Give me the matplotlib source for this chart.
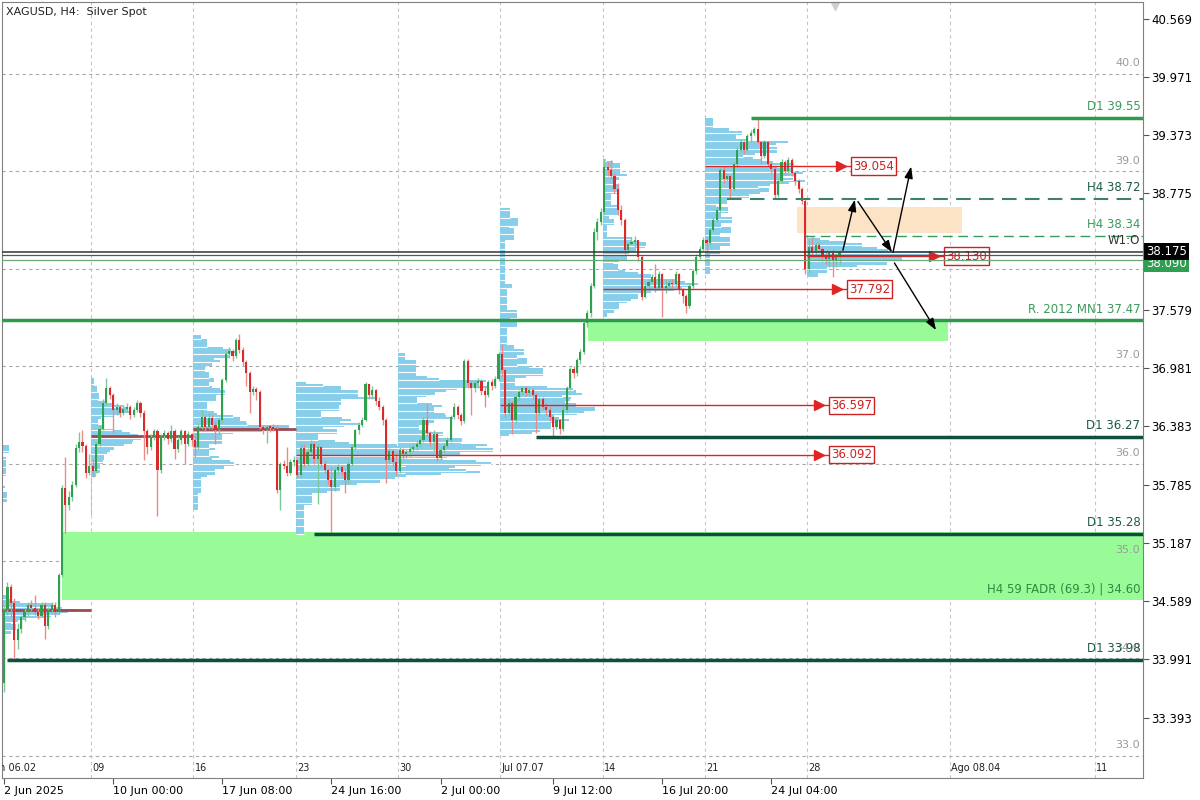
import numpy as np
import matplotlib.pyplot as plt
import matplotlib.transforms as mtransforms

plt.rcParams['font.family'] = ['DejaVu Sans']

# H4 bars of XAGUSD, one row per week (Jun 02 week is cut at the left edge).
# The open of a bar is the close of the bar before it.
first_open = 33.75
first_bar = -26          # bar 0 = Mon 09 Jun 00:00

close_w = [
    [34.50, 34.73, 34.57, 34.19, 34.30, 34.42, 34.48, 34.55, 34.52, 34.48,
     34.44, 34.55, 34.33, 34.50, 34.55, 34.48, 34.86, 35.75, 35.57, 35.66,
     35.78, 36.16, 36.22, 36.18, 35.90, 35.98],
    [35.92, 36.20, 36.36, 36.62, 36.78, 36.70, 36.55, 36.58, 36.52, 36.56,
     36.58, 36.50, 36.55, 36.62, 36.52, 36.33, 36.17, 36.27, 36.33, 35.93,
     36.28, 36.31, 36.25, 36.33, 36.15, 36.24, 36.33, 36.20, 36.30, 36.24],
    [36.17, 36.38, 36.48, 36.38, 36.47, 36.40, 36.34, 36.45, 36.86, 37.13,
     37.16, 37.10, 37.27, 37.17, 37.04, 36.93, 36.74, 36.77, 36.74, 36.38,
     36.34, 36.38, 36.37, 36.36, 35.73, 36.00, 35.98, 35.90, 36.02, 36.04],
    [35.88, 36.16, 36.00, 36.12, 36.20, 36.05, 36.17, 36.00, 35.93, 35.83,
     35.76, 35.93, 35.97, 35.91, 35.83, 36.00, 36.17, 36.34, 36.40, 36.45,
     36.82, 36.70, 36.76, 36.64, 36.58, 36.45, 36.04, 36.13, 36.02, 35.92],
    [36.14, 36.10, 36.12, 36.15, 36.17, 36.20, 36.24, 36.45, 36.31, 36.22,
     36.30, 36.06, 36.14, 36.18, 36.24, 36.48, 36.58, 36.50, 36.44, 37.05,
     36.83, 36.78, 36.83, 36.85, 36.75, 36.70, 36.84, 36.80, 36.87, 37.13],
    [36.96, 36.52, 36.62, 36.45, 36.68, 36.73, 36.78, 36.72, 36.76, 36.70,
     36.52, 36.66, 36.58, 36.55, 36.48, 36.38, 36.45, 36.35, 36.55, 36.78,
     36.97, 36.93, 37.06, 37.15, 37.44, 37.55, 37.82, 38.38, 38.48, 38.58],
    [39.05, 39.01, 38.95, 38.82, 38.60, 38.50, 38.19, 38.25, 38.28, 38.30,
     38.12, 37.71, 37.82, 37.86, 37.92, 37.80, 37.95, 37.80, 37.82, 37.85,
     37.84, 37.95, 37.78, 37.72, 37.62, 37.82, 37.98, 38.12, 38.20, 38.30],
    [38.26, 38.40, 38.50, 38.60, 39.01, 38.92, 38.95, 38.82, 39.08, 39.22,
     39.30, 39.22, 39.36, 39.39, 39.44, 39.30, 39.16, 39.30, 39.08, 39.02,
     38.76, 38.90, 39.10, 39.00, 39.12, 38.98, 38.90, 38.82, 38.70, 38.00],
    [38.22, 38.18, 38.24, 38.20, 38.14, 38.10, 38.16, 38.09, 38.13, 38.175],
]
high_w = [
    [34.55, 34.78, 34.76, 34.62, 34.36, 34.45, 34.52, 34.58, 34.60, 34.65,
     34.52, 34.58, 34.58, 34.53, 34.58, 34.58, 34.88, 35.78, 36.07, 35.72,
     35.82, 36.20, 36.32, 36.34, 36.20, 36.10],
    [36.05, 36.22, 36.40, 36.66, 36.88, 36.80, 36.72, 36.62, 36.60, 36.60,
     36.62, 36.60, 36.58, 36.65, 36.64, 36.55, 36.35, 36.30, 36.36, 36.36,
     36.30, 36.34, 36.33, 36.40, 36.35, 36.28, 36.36, 36.34, 36.33, 36.31],
    [36.31, 36.42, 36.55, 36.50, 36.52, 36.50, 36.44, 36.48, 36.88, 37.16,
     37.20, 37.18, 37.29, 37.33, 37.20, 37.06, 36.95, 36.80, 36.79, 36.76,
     36.40, 36.40, 36.40, 36.41, 36.40, 36.02, 36.04, 36.17, 36.05, 36.08],
    [36.04, 36.20, 36.20, 36.16, 36.24, 36.22, 36.20, 36.18, 36.04, 35.95,
     35.96, 35.96, 36.00, 35.99, 35.93, 36.03, 36.20, 36.36, 36.43, 36.48,
     36.84, 36.82, 36.80, 36.77, 36.68, 36.60, 36.47, 36.16, 36.15, 36.12],
    [36.17, 36.16, 36.15, 36.18, 36.20, 36.23, 36.27, 36.48, 36.62, 36.33,
     36.34, 36.32, 36.17, 36.21, 36.27, 36.50, 36.62, 36.60, 36.52, 37.07,
     37.07, 36.86, 36.86, 36.88, 36.87, 36.80, 36.86, 36.87, 36.90, 37.15],
    [37.23, 36.98, 36.66, 36.64, 36.70, 36.76, 36.80, 36.80, 36.78, 36.78,
     36.72, 36.68, 36.68, 36.62, 36.58, 36.50, 36.48, 36.46, 36.58, 36.80,
     36.99, 37.00, 37.08, 37.18, 37.46, 37.58, 37.85, 38.42, 38.52, 38.62],
    [39.13, 39.10, 39.12, 38.98, 38.88, 38.65, 38.52, 38.28, 38.33, 38.34,
     38.30, 38.14, 37.85, 37.89, 37.95, 38.05, 37.98, 37.96, 37.90, 37.88,
     37.90, 37.98, 37.96, 37.80, 37.74, 37.85, 38.00, 38.15, 38.23, 38.33],
    [38.33, 38.43, 38.53, 38.64, 39.03, 39.05, 38.98, 38.96, 39.10, 39.25,
     39.33, 39.31, 39.38, 39.42, 39.46, 39.55, 39.31, 39.32, 39.31, 39.10,
     39.04, 38.93, 39.13, 39.12, 39.15, 39.14, 39.00, 38.92, 38.84, 38.72],
    [38.30, 38.33, 38.27, 38.28, 38.22, 38.18, 38.19, 38.20, 38.16, 38.19],
]
low_w = [
    [33.65, 34.45, 34.42, 33.98, 34.10, 34.26, 34.38, 34.44, 34.49, 34.45,
     34.40, 34.42, 34.20, 34.30, 34.47, 34.42, 34.46, 34.84, 35.29, 35.52,
     35.62, 35.76, 36.12, 36.12, 35.85, 35.88],
    [35.86, 35.90, 36.18, 36.34, 36.60, 36.66, 36.31, 36.50, 36.48, 36.50,
     36.53, 36.46, 36.48, 36.53, 36.48, 36.04, 36.10, 36.14, 36.24, 35.46,
     35.90, 36.24, 36.20, 36.22, 36.05, 36.12, 36.20, 36.00, 36.18, 36.18],
    [36.07, 36.15, 36.35, 36.33, 36.36, 36.36, 36.20, 36.30, 36.42, 36.84,
     37.08, 37.05, 37.08, 37.14, 37.00, 36.80, 36.52, 36.70, 36.65, 36.35,
     36.30, 36.21, 36.32, 36.33, 35.70, 35.52, 35.94, 35.87, 35.88, 35.98],
    [35.85, 35.86, 35.96, 35.98, 36.08, 36.00, 35.59, 35.96, 35.90, 35.78,
     35.28, 35.72, 35.90, 35.88, 35.70, 35.80, 35.98, 36.15, 36.30, 36.38,
     36.44, 36.66, 36.66, 36.60, 36.55, 36.40, 35.80, 36.00, 35.98, 35.88],
    [35.90, 36.05, 36.06, 36.08, 36.12, 36.14, 36.18, 36.22, 36.28, 36.18,
     36.13, 36.03, 36.04, 36.12, 36.16, 36.22, 36.46, 36.46, 36.40, 36.42,
     36.78, 36.50, 36.74, 36.78, 36.70, 36.58, 36.68, 36.76, 36.78, 36.85],
    [36.90, 36.48, 36.50, 36.30, 36.42, 36.64, 36.70, 36.69, 36.70, 36.66,
     36.31, 36.50, 36.55, 36.50, 36.44, 36.28, 36.35, 36.30, 36.33, 36.52,
     36.76, 36.88, 36.90, 37.02, 37.12, 37.40, 37.50, 37.80, 38.30, 38.45],
    [38.55, 38.95, 38.92, 38.78, 38.55, 38.45, 38.15, 38.16, 38.24, 38.22,
     38.08, 37.68, 37.70, 37.78, 37.84, 37.76, 37.78, 37.51, 37.75, 37.78,
     37.80, 37.82, 37.74, 37.65, 37.55, 37.60, 37.80, 37.95, 38.10, 38.18],
    [38.16, 38.24, 38.38, 38.48, 38.58, 38.88, 38.90, 38.72, 38.80, 39.05,
     39.20, 39.18, 39.20, 39.30, 39.37, 39.28, 39.08, 39.14, 39.05, 38.98,
     38.72, 38.74, 38.88, 38.96, 38.98, 38.95, 38.86, 38.78, 38.66, 37.95],
    [37.96, 38.12, 38.14, 38.16, 38.08, 38.05, 38.02, 37.92, 38.02, 38.05],
]

# weekly volume profiles
week_start = [-30, 0, 30, 60, 90, 120, 150, 180, 210]
profile_px = [88, 50, 96, 195, 95, 95, 95, 100, 125]
closed_poc = [34.50, 36.28, 36.36]          # weeks 02, 09 and 16 Jun

# untouched POCs (red ray + price box)
naked_poc = [39.054, 37.792, 36.597, 36.092, 38.130]
naked_from = [180, 150, 120, 60, 210]
naked_box = [222.7, 221.5, 216.2, 216.2, 249.9]

# support / resistance levels
level_val = [39.55, 38.72, 38.34, 37.47, 36.27, 35.28, 33.98]
level_text = ['D1 39.55', 'H4 38.72', 'H4 38.34', 'R. 2012 MN1 37.47',
              'D1 36.27', 'D1 35.28', 'D1 33.98']
level_from = [193, 186, 209, -30, 130, 65, -25]

fadr_zone = (34.60, 35.30)
mn1_zone = (37.26, 37.46)
supply_zone = (38.37, 38.63)

w1_open = 38.175
d1_line = 38.14
bid = 38.175
ask = 38.090

price_ticks = [40.569, 39.971, 39.373, 38.775, 37.579, 36.981, 36.383,
               35.785, 35.187, 34.589, 33.991, 33.393]
round_levels = [40.0, 39.0, 37.0, 36.0, 35.0, 34.0, 33.0]
grid_levels = [40, 39, 38, 37, 36, 35, 34, 33]

time_ticks = [-26, 6, 38, 70, 102, 135, 167, 199]
time_labels = ['2 Jun 2025', '10 Jun 00:00', '17 Jun 08:00', '24 Jun 16:00',
               '2 Jul 00:00', '9 Jul 12:00', '16 Jul 20:00', '24 Jul 04:00']
week_labels = ['Jun 06.02', '09', '16', '23', '30', 'Jul 07.07', '14', '21',
               '28', 'Ago 08.04', '11']
week_label_at = [-30.5, -0.5, 29.5, 59.5, 89.5, 119.5, 149.5, 179.5, 209.5,
                 251.4, 293.9]

# hand drawn scenario arrows (bar, price)
arrows = [((220.0, 38.19), (223.5, 38.71)),
          ((224.4, 38.69), (234.4, 38.17)),
          ((234.7, 38.17), (240.0, 39.05)),
          ((235.1, 38.06), (247.3, 37.37))]

PX = 3.41   # pixels per bar
GREEN = '#2f9a4c'
DARK = '#0e4f3f'
RED = '#e02424'

c = np.concatenate(close_w)
o = np.r_[first_open, c[:-1]]
h = np.maximum(np.concatenate(high_w), np.maximum(o, c))
l = np.minimum(np.concatenate(low_w), np.minimum(o, c))
x = first_bar + np.arange(len(c))

fig = plt.figure(figsize=(12, 8), dpi=100)
ax = fig.add_axes([2 / 1200, 22 / 800, 1141 / 1200, 776 / 800])
ax.set_xlim(-26.6, 308.0)
ax.set_ylim(32.772, 40.739)
x_right = 307.2

# grid
for g in grid_levels:
    ax.axhline(g, color='#a8a8a8', lw=0.8, ls=(0, (3, 3)), zorder=0)
for s in week_label_at[1:]:
    ax.axvline(s, color='#c4c4c4', lw=0.8, ls=(0, (3, 3)), zorder=0)

# zones
ax.fill_between([-9, 310], *fadr_zone, color='#98fb98', lw=0, zorder=1)
ax.fill_between([145.2, 250.8], *mn1_zone, color='#98fb98', lw=0, zorder=1)
ax.fill_between([206.5, 254.9], *supply_zone, color='#fde3c6', lw=0, zorder=1)

# weekly profiles
step = 0.02
for ws, wpx in zip(week_start, profile_px):
    m = (x >= ws) & (x < ws + 30)
    mids = np.arange(l[m].min() + step / 2, h[m].max(), step)
    vol = np.zeros_like(mids)
    for lo_i, hi_i in zip(l[m], h[m]):
        inside = (mids >= lo_i) & (mids <= hi_i)
        if inside.any():
            vol[inside] += 1 / np.sqrt(inside.sum())
    w = vol / vol.max() * wpx / PX
    ax.barh(mids, w, height=step * 1.02, left=ws - 0.5, color='#87ceeb', lw=0, zorder=2)
    sep = np.arange(len(mids)) % 4 == 0
    ax.hlines(mids[sep] - step / 2, ws - 0.5, ws - 0.5 + w[sep], color='white',
              lw=0.8, zorder=2.5)

for p, ws in zip(closed_poc, week_start):
    ax.hlines(p, ws - 0.5, ws + 29.5, color='#9c4a50', lw=2, zorder=3)

# candles
up = c >= o
ax.vlines(x[up], l[up], h[up], color='#7cc896', lw=1, zorder=4)
ax.vlines(x[~up], l[~up], h[~up], color='#ec8a8a', lw=1, zorder=4)
body = np.maximum(np.abs(c - o), 0.012)
bottom = np.minimum(o, c)
ax.bar(x[up], body[up], bottom=bottom[up], width=0.62, color='#2ea04e', lw=0, zorder=5)
ax.bar(x[~up], body[~up], bottom=bottom[~up], width=0.62, color='#d92b2b', lw=0, zorder=5)

# naked POCs
for p, f, b in zip(naked_poc, naked_from, naked_box):
    ax.hlines(p, f - 0.5, b, color=RED, lw=1, zorder=6)
    ax.plot(b - 3.2, p, marker='>', ms=7, color=RED, zorder=6)
    ax.text(b + 0.3, p, f'{p:.3f}', color='#cc2222', fontsize=8.5, va='center',
            ha='left', zorder=7,
            bbox=dict(boxstyle='square,pad=0.18', fc='white', ec='#cc2222', lw=1))

# levels
styles = [dict(color=GREEN, lw=2.5), dict(color='#3f7f6f', lw=1.5, ls=(0, (7, 4))),
          dict(color='#3a9a5a', lw=1, ls=(0, (7, 4))), dict(color=GREEN, lw=2.5),
          dict(color=DARK, lw=2.5), dict(color=DARK, lw=2.5), dict(color=DARK, lw=2.5)]
text_col = ['#3a9a5a', '#1d5a4a', '#3a9a5a', '#3a9a5a', '#1d5a4a', '#1d5a4a', '#1d5a4a']
for v, t, f, st, tc in zip(level_val, level_text, level_from, styles, text_col):
    ax.hlines(v, f, 310, zorder=8, **st)
    ax.text(x_right, v + 0.05, t, color=tc, fontsize=8.5, ha='right', va='bottom', zorder=9)

ax.text(x_right, fadr_zone[0] + 0.05, 'H4 59 FADR (69.3) | 34.60', color='#2e8b3e',
        fontsize=8.5, ha='right', va='bottom', zorder=9)

for r in round_levels:
    ax.text(x_right, r + 0.06, f'{r:.1f}', color='#9a9a9a', fontsize=8,
            ha='right', va='bottom', zorder=1)

# price lines
ax.axhline(w1_open, color='#333333', lw=1.1, zorder=8)
ax.axhline(d1_line, color='#555555', lw=0.9, zorder=8)
ax.axhline(ask, color='#6aa87a', lw=0.9, zorder=8)
ax.text(x_right, w1_open + 0.05, 'W1:O', color='#333333', fontsize=8.5,
        ha='right', va='bottom', zorder=9)

# scenario arrows
for (x0, y0), (x1, y1) in arrows:
    ax.annotate('', xy=(x1, y1), xytext=(x0, y0), zorder=9,
                arrowprops=dict(arrowstyle='-|>,head_length=0.7,head_width=0.25',
                                color='black', lw=1, shrinkA=0, shrinkB=0))

# labels inside the chart
ax.text(0.0035, 0.987, 'XAGUSD, H4:  Silver Spot', transform=ax.transAxes,
        fontsize=8, va='center', ha='left', color='#222222')
for t, p in zip(week_labels, week_label_at):
    ax.text(p + 0.4, 32.875, t, fontsize=7, va='center', ha='left',
            color='#222222', clip_on=True)
ax.plot(217.7, 40.70, marker='v', ms=6, color='#cfcfcf', clip_on=False)

# price boxes on the right axis
trans = mtransforms.blended_transform_factory(ax.transAxes, ax.transData)
ax.text(1.0028, ask - 0.04, f'{ask:.3f}', transform=trans, color='white', fontsize=8.5,
        va='center', ha='left', clip_on=False,
        bbox=dict(boxstyle='square,pad=0.15', fc='#2e9e50', ec='none'))
ax.text(1.0028, bid, f'{bid:.3f}', transform=trans, color='white', fontsize=8.5,
        va='center', ha='left', clip_on=False,
        bbox=dict(boxstyle='square,pad=0.15', fc='black', ec='none'))

# axes
ax.yaxis.tick_right()
ax.set_yticks(price_ticks)
ax.set_yticklabels([f'{v:.3f}' for v in price_ticks], fontsize=8.5)
ax.set_xticks(time_ticks)
ax.set_xticklabels(time_labels, fontsize=8, ha='left')
ax.tick_params(axis='y', length=4, width=0.8, color='#555555', pad=2)
ax.tick_params(axis='x', length=4, width=0.8, color='#555555', pad=2)
for sp in ax.spines.values():
    sp.set_color('#808080')

fig.savefig('out.png', dpi=100)
